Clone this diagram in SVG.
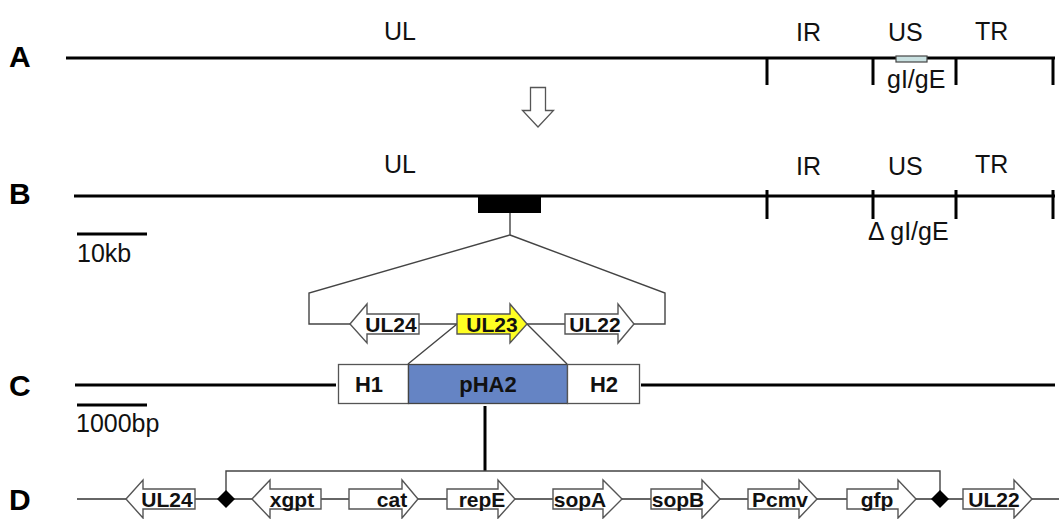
<svg xmlns="http://www.w3.org/2000/svg" width="1059" height="519" viewBox="0 0 1059 519">
  <style>
    .row { font-family: "Liberation Sans", Arial, sans-serif; font-weight: bold; font-size: 30px; fill: #000; }
    .reg { font-family: "Liberation Sans", Arial, sans-serif; font-size: 25px; fill: #111; }
    .scale { font-family: "Liberation Sans", Arial, sans-serif; font-size: 25px; fill: #111; }
    .gene { font-family: "Liberation Sans", Arial, sans-serif; font-weight: bold; font-size: 21px; fill: #111; text-anchor: middle; }
    .box { font-family: "Liberation Sans", Arial, sans-serif; font-weight: bold; font-size: 22px; fill: #111; text-anchor: middle; }
    .thick { stroke: #000; stroke-width: 3; fill: none; }
    .thin { stroke: #444; stroke-width: 1.4; fill: none; }
    .arrow { fill: #fff; stroke: #555; stroke-width: 1.4; }
  </style>

  <!-- Row labels -->
  <text class="row" x="9" y="67">A</text>
  <text class="row" x="9" y="204">B</text>
  <text class="row" x="9" y="396">C</text>
  <text class="row" x="9" y="510">D</text>

  <!-- A: wild-type genome -->
  <g id="genomeA">
    <line class="thick" x1="66" y1="58" x2="1055" y2="58"/>
    <path class="thick" d="M767 58 V85 M873 58 V85 M956 58 V85 M1053 58 V85"/>
    <rect x="896" y="56" width="31" height="6" fill="#c9e1e1" stroke="#444" stroke-width="1.2"/>
    <text class="reg" x="384" y="40">UL</text>
    <text class="reg" x="796" y="41">IR</text>
    <text class="reg" x="888" y="41">US</text>
    <text class="reg" x="975" y="40">TR</text>
    <text class="reg" x="887" y="88">gI/gE</text>
  </g>

  <!-- transition arrow -->
  <g id="downArrow">
    <path d="M530.5 87.5 H545.5 V110.5 H553.5 L538 127 L522.5 110.5 H530.5 Z" fill="#fff" stroke="#555" stroke-width="1.3"/>
  </g>

  <!-- B: deleted genome -->
  <g id="genomeB">
    <line class="thick" x1="74" y1="196" x2="1055" y2="196"/>
    <path class="thick" d="M767 190 V219 M873 190 V219 M956 190 V219 M1053 190 V219"/>
    <rect x="478" y="196" width="63" height="17" fill="#000"/>
    <text class="reg" x="384" y="173">UL</text>
    <text class="reg" x="796" y="175">IR</text>
    <text class="reg" x="888" y="175">US</text>
    <text class="reg" x="975" y="173">TR</text>
    <text class="reg" x="868" y="240">Δ gI/gE</text>
  </g>

  <!-- scale bars -->
  <g id="scale10kb">
    <line class="thick" x1="77" y1="234" x2="147" y2="234"/>
    <text class="scale" x="77" y="262">10kb</text>
  </g>
  <g id="scale1000bp">
    <line class="thick" x1="77" y1="405" x2="147" y2="405"/>
    <text class="scale" x="76" y="432">1000bp</text>
  </g>

  <!-- connectors -->
  <g id="connectors">
    <!-- expansion of the insertion site -->
    <path class="thin" d="M510 213 V235 L309 293 V324 H350"/>
    <path class="thin" d="M510 235 L665 293 V324 H634"/>
    <path class="thin" d="M419 324 H457 M527 324 H565"/>
    <!-- UL23 replaced by the pHA2 cassette -->
    <path class="thin" d="M457 324 L408 364 M527 324 L567 364"/>
    <!-- cassette expansion -->
    <line x1="485" y1="406" x2="485" y2="471" stroke="#000" stroke-width="3"/>
    <path class="thin" d="M226 499 V471 H940 V499"/>
    <!-- D backbone -->
    <line x1="77" y1="499" x2="1059" y2="499" stroke="#333" stroke-width="1.3"/>
  </g>

  <!-- UL24 / UL23 / UL22 locus -->
  <g id="locusUL24">
    <path class="arrow" d="M350 324 L367 304 V314 H419 V334 H367 V343 Z"/>
    <text class="gene" x="391" y="332">UL24</text>
  </g>
  <g id="locusUL23">
    <path d="M457 314 H510 V304 L527 324 L510 343 V334 H457 Z" fill="#ffff22" stroke="#555" stroke-width="1.4"/>
    <text class="gene" x="492" y="332">UL23</text>
  </g>
  <g id="locusUL22">
    <path class="arrow" d="M565 314 H618 V304 L634 324 L618 343 V334 H565 Z"/>
    <text class="gene" x="595" y="332">UL22</text>
  </g>

  <!-- C: recombinant construct -->
  <g id="constructC">
    <line class="thick" x1="75" y1="385" x2="336" y2="385"/>
    <line class="thick" x1="641" y1="385" x2="1055" y2="385"/>
  </g>
  <g id="H1">
    <rect x="338.5" y="364.5" width="70" height="39" fill="#fff" stroke="#555" stroke-width="1.3"/>
    <text class="box" x="369" y="392">H1</text>
  </g>
  <g id="pHA2">
    <rect x="408.5" y="364.5" width="159" height="39" fill="#6584c4" stroke="#444" stroke-width="1.3"/>
    <text class="box" x="488" y="392">pHA2</text>
  </g>
  <g id="H2">
    <rect x="567.5" y="364.5" width="72" height="39" fill="#fff" stroke="#555" stroke-width="1.3"/>
    <text class="box" x="604" y="392">H2</text>
  </g>

  <!-- D: inserted cassette elements -->
  <g id="D_UL24">
    <path class="arrow" d="M126 499 L143 480 V489 H195 V509 H143 V518 Z"/>
    <text class="gene" x="167" y="507">UL24</text>
  </g>
  <g id="siteLeft">
    <path d="M226 490 L235 499 L226 508 L217 499 Z" fill="#000"/>
  </g>
  <g id="D_xgpt">
    <path class="arrow" d="M252 499 L270 480 V489 H321 V509 H270 V518 Z"/>
    <text class="gene" x="292" y="507">xgpt</text>
  </g>
  <g id="D_cat">
    <path class="arrow" d="M349 489 H402 V480 L418 499 L402 518 V509 H349 Z"/>
    <text class="gene" x="392" y="507">cat</text>
  </g>
  <g id="D_repE">
    <path class="arrow" d="M447 489 H498 V480 L515 499 L498 518 V509 H447 Z"/>
    <text class="gene" x="482" y="507">repE</text>
  </g>
  <g id="D_sopA">
    <path class="arrow" d="M553 489 H603 V480 L622 499 L603 518 V509 H553 Z"/>
    <text class="gene" x="580" y="507">sopA</text>
  </g>
  <g id="D_sopB">
    <path class="arrow" d="M651 489 H702 V480 L720 499 L702 518 V509 H651 Z"/>
    <text class="gene" x="678" y="507">sopB</text>
  </g>
  <g id="D_Pcmv">
    <path class="arrow" d="M748 489 H799 V480 L817 499 L799 518 V509 H748 Z"/>
    <text class="gene" x="780" y="507">Pcmv</text>
  </g>
  <g id="D_gfp">
    <path class="arrow" d="M847 489 H898 V480 L916 499 L898 518 V509 H847 Z"/>
    <text class="gene" x="877" y="507">gfp</text>
  </g>
  <g id="siteRight">
    <path d="M940 490 L949 499 L940 508 L931 499 Z" fill="#000"/>
  </g>
  <g id="D_UL22">
    <path class="arrow" d="M963 489 H1014 V480 L1032 499 L1014 518 V509 H963 Z"/>
    <text class="gene" x="994" y="507">UL22</text>
  </g>
</svg>
